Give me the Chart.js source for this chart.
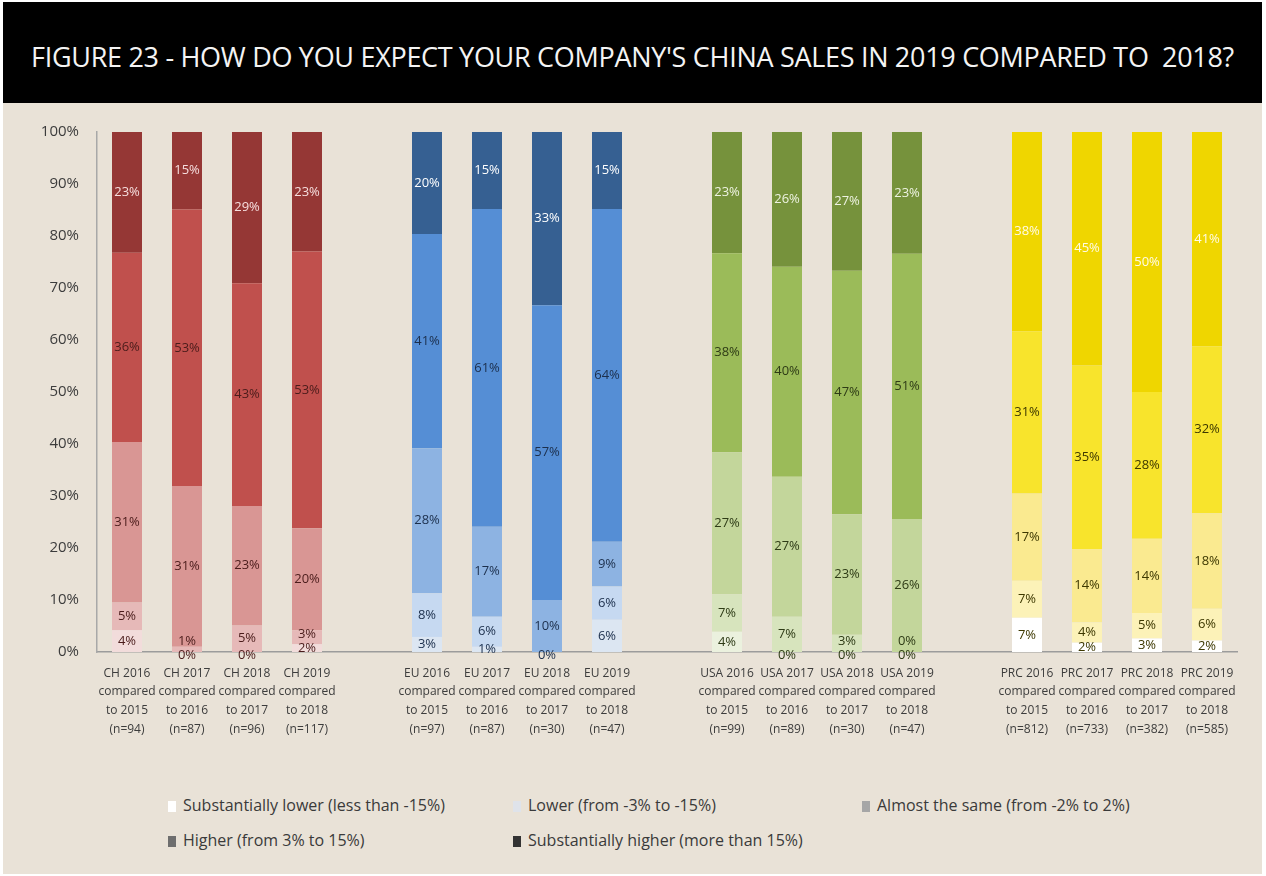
<!DOCTYPE html>
<html>
<head>
<meta charset="utf-8">
<script src="https://cdn.jsdelivr.net/npm/chart.js@4/dist/chart.umd.min.js"></script>
<style>
  html, body { margin:0; padding:0; }
  body { width:1266px; height:876px; background:#ffffff; position:relative; overflow:hidden; font-family:"Open Sans", sans-serif; }
  #panel { position:absolute; left:3px; top:2px; width:1259px; height:872px; background:#e9e2d7; }
  #titlebar { position:absolute; left:3px; top:2px; width:1259px; height:101px; background:#000; }
  #title { position:absolute; left:0; top:4px; width:1259px; height:101px; line-height:101px; text-align:center; color:#f4f4f4; font-size:27px; white-space:pre; letter-spacing:-0.3px; }
  #wrap { position:absolute; left:0; top:105px; width:1266px; height:657px; }
  .lg { position:absolute; font-size:16px; color:#3a3a3a; white-space:nowrap; line-height:20px; }
  .lg i { display:inline-block; width:8px; height:11px; margin-right:7px; vertical-align:-1px; }
</style>
</head>
<body>
<div id="panel"></div>
<div id="titlebar"><div id="title">FIGURE 23 - HOW DO YOU EXPECT YOUR COMPANY'S CHINA SALES IN 2019 COMPARED TO  2018?</div></div>
<div id="wrap"><canvas id="c" width="1266" height="657"></canvas></div>
<div id="legend"></div>
<script>
// ---- data ----
const categories = [
  ["CH 2016","compared","to 2015","(n=94)"],
  ["CH 2017","compared","to 2016","(n=87)"],
  ["CH 2018","compared","to 2017","(n=96)"],
  ["CH 2019","compared","to 2018","(n=117)"],
  "",
  ["EU 2016","compared","to 2015","(n=97)"],
  ["EU 2017","compared","to 2016","(n=87)"],
  ["EU 2018","compared","to 2017","(n=30)"],
  ["EU 2019","compared","to 2018","(n=47)"],
  "",
  ["USA 2016","compared","to 2015","(n=99)"],
  ["USA 2017","compared","to 2016","(n=89)"],
  ["USA 2018","compared","to 2017","(n=30)"],
  ["USA 2019","compared","to 2018","(n=47)"],
  "",
  ["PRC 2016","compared","to 2015","(n=812)"],
  ["PRC 2017","compared","to 2016","(n=733)"],
  ["PRC 2018","compared","to 2017","(n=382)"],
  ["PRC 2019","compared","to 2018","(n=585)"]
];
const seriesNames = [
  "Substantially lower (less than -15%)",
  "Lower (from -3% to -15%)",
  "Almost the same (from -2% to 2%)",
  "Higher (from 3% to 15%)",
  "Substantially higher (more than 15%)"
];
const substantiallyLower  = [4.2, 0,    0,    1.5,  null, 2.9,  1.0,  null, 6.2,  null, 3.9,  0,    0,    0,    null, 6.6,  1.8,  2.6,  2.2];
const lower               = [5.3, 1.0,  5.1,  2.7,  null, 8.4,  5.8,  0,    6.4,  null, 7.2,  6.8,  3.3,  0,    null, 7.1,  3.9,  4.9,  6.1];
const almostSame          = [30.9,30.9, 23.0, 19.6, null, 27.9, 17.3, 10.0, 8.6,  null, 27.3, 26.9, 23.2, 25.6, null, 16.8, 14.1, 14.3, 18.4];
const higher              = [36.4,53.2, 42.8, 53.2, null, 41.2, 61.1, 56.7, 64.0, null, 38.3, 40.4, 46.8, 51.0, null, 31.2, 35.3, 28.2, 32.1];
const substantiallyHigher = [23.2,14.9, 29.1, 23.0, null, 19.6, 14.8, 33.3, 14.8, null, 23.3, 25.9, 26.7, 23.4, null, 38.3, 44.9, 50.0, 41.2];
const yTicks = [0,10,20,30,40,50,60,70,80,90,100];

// ---- styles ----
const groupColors = [
  ["#f2dcdb","#e6b9b8","#d99694","#c0504d","#953735"],   // CH
  ["#dce6f2","#c6d9f1","#8db3e2","#558ed5","#366092"],   // EU
  ["#ebf1de","#d7e4bd","#c3d69b","#9bbb59","#76923c"],   // USA
  ["#ffffff","#fcf2b8","#faea90","#f8e42c","#efd600"]    // PRC
];
const groupText = [
  {dark:"#4a1c1b", light:"#f6dede"},
  {dark:"#1c2f4c", light:"#ffffff"},
  {dark:"#2e3b16", light:"#eef3e2"},
  {dark:"#3d3800", light:"#fffbe6"}
];
const legendMarks = ["#ffffff","#dfe3ea","#a6a6a6","#6e6e6e","#333333"];
const allSeries = [substantiallyLower, lower, almostSame, higher, substantiallyHigher];

const groupOf = i => Math.floor(i / 5);

const datasets = allSeries.map((arr, si) => ({
  label: seriesNames[si],
  data: arr,
  backgroundColor: ctx => groupColors[groupOf(ctx.dataIndex)][si],
  borderWidth: 0,
  categoryPercentage: 0.5,
  barPercentage: 1.0
}));

const segLabels = {
  id: 'segLabels',
  afterDatasetsDraw(chart) {
    const c = chart.ctx;
    c.save();
    c.font = '13px "Open Sans"';
    c.textAlign = 'center';
    c.textBaseline = 'middle';
    const n = chart.data.labels.length;
    for (let i = 0; i < n; i++) {
      let prevY = Infinity;
      chart.data.datasets.forEach((ds, di) => {
        const v = ds.data[i];
        if (v === null || v === undefined) return;
        const el = chart.getDatasetMeta(di).data[i];
        let y = v === 0 ? el.base + 3 : (el.y + el.base) / 2;
        if (y > prevY - 14) y = prevY - 14;
        prevY = y;
        const t = groupText[groupOf(i)];
        c.fillStyle = (di === 4) ? t.light : t.dark;
        c.fillText(Math.round(v) + '%', el.x, y);
      });
    }
    c.restore();
  }
};

Chart.defaults.font.family = '"Open Sans", sans-serif';

new Chart(document.getElementById('c'), {
  type: 'bar',
  data: { labels: categories, datasets },
  plugins: [segLabels],
  options: {
    responsive: false,
    animation: false,
    layout: { padding: { left: 0, right: 29, top: 18, bottom: 0 } },
    plugins: { legend: { display: false }, tooltip: { enabled: false } },
    scales: {
      x: {
        stacked: true,
        grid: { display: false, drawTicks: false },
        border: { display: true, color: '#9c9c9c', width: 1.5 },
        ticks: { autoSkip: false, maxRotation: 0, minRotation: 0, padding: 12, color: '#3c3c3c',
                 font: { size: 12, lineHeight: 1.55 } },
        afterFit: s => { s.height = 110; }
      },
      y: {
        stacked: true,
        min: 0, max: 100,
        afterBuildTicks: s => { s.ticks = yTicks.map(v => ({ value: v })); },
        grid: { display: false, drawTicks: false },
        border: { display: true, color: '#a8a8a8', width: 1.5 },
        ticks: { padding: 18, color: '#3c3c3c', font: { size: 15 }, callback: v => v + '%' },
        afterFit: s => { s.width = 97; }
      }
    }
  }
});

// ---- legend (HTML) ----
const legendPos = [[168,795],[513,795],[862,795],[168,830],[513,830]];
const lg = document.getElementById('legend');
seriesNames.forEach((name, i) => {
  const d = document.createElement('div');
  d.className = 'lg';
  d.style.left = legendPos[i][0] + 'px';
  d.style.top = legendPos[i][1] + 'px';
  d.innerHTML = '<i style="background:' + legendMarks[i] + '"></i>' + name;
  lg.appendChild(d);
});
</script>
</body>
</html>
